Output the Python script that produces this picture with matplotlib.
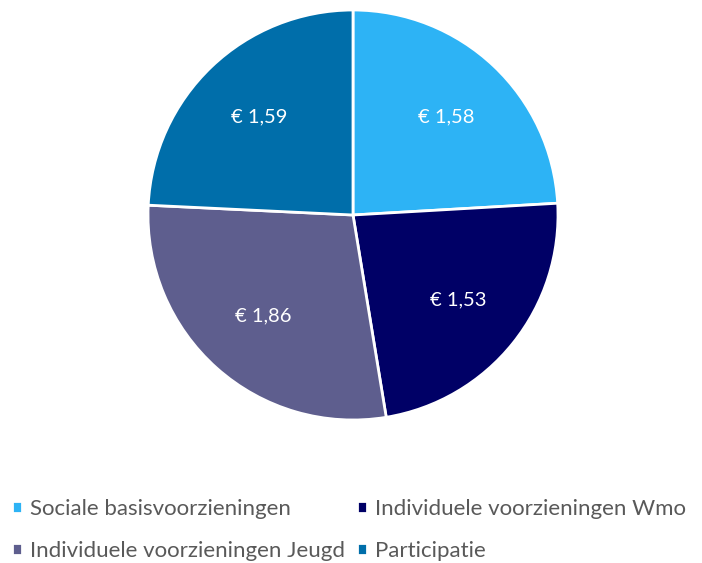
import matplotlib
matplotlib.use("Agg")
import matplotlib.pyplot as plt

categories = [
    "Sociale basisvoorzieningen",
    "Individuele voorzieningen Wmo",
    "Individuele voorzieningen Jeugd",
    "Participatie",
]
values = [1.58, 1.53, 1.86, 1.59]
labels = ["€ 1,58", "€ 1,53", "€ 1,86", "€ 1,59"]
colors = ["#2db3f5", "#000066", "#5e5e8e", "#006eaa"]

plt.rcParams["font.family"] = ["Lato", "DejaVu Sans"]

fig = plt.figure(figsize=(7.02, 5.63), dpi=100)
# pie centre at about (353, 214) px, radius about 204 px
ax = fig.add_axes([(353 - 205) / 702, (563 - 215 - 205) / 563, 410 / 702, 410 / 563])

wedges, texts = ax.pie(
    values,
    labels=labels,
    colors=colors,
    startangle=90,
    counterclock=False,
    labeldistance=0.66,
    wedgeprops={"edgecolor": "white", "linewidth": 2, "clip_on": False},
    textprops={"color": "white", "fontsize": 14.5, "ha": "center", "va": "center"},
)
ax.set_xlim(-1.0, 1.0)
ax.set_ylim(-1.0, 1.0)
ax.set_aspect("equal")

order = [0, 2, 1, 3]
fig.legend(
    [wedges[i] for i in order],
    [categories[i] for i in order],
    ncol=2,
    loc="lower left",
    bbox_to_anchor=(0.005, -0.012),
    borderaxespad=0.0,
    frameon=False,
    fontsize=16,
    handlelength=0.45,
    handleheight=0.45,
    handletextpad=0.35,
    columnspacing=0.55,
    labelspacing=1.0,
    labelcolor="#595959",
)

fig.savefig("out.png", dpi=100)
